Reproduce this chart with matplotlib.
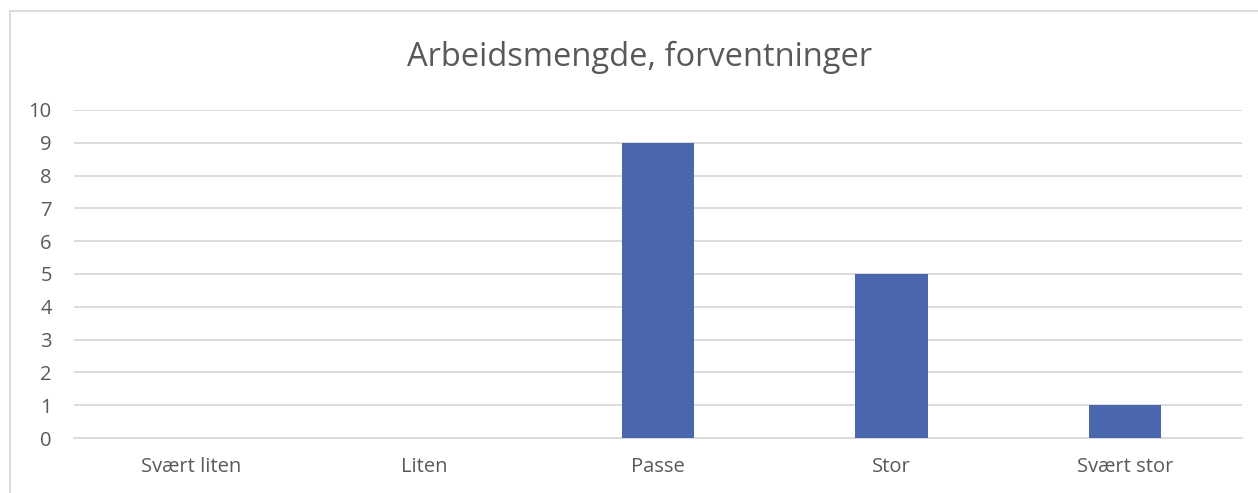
import matplotlib.pyplot as plt
from matplotlib.patches import Rectangle

# data
categories = ["Svært liten", "Liten", "Passe", "Stor", "Svært stor"]
counts = [0, 0, 9, 5, 1]
yticks = list(range(0, 11))

plt.rcParams['font.family'] = ['Open Sans', 'DejaVu Sans']
txt = "#595959"

fig = plt.figure(figsize=(12.58, 4.93), dpi=100)
ax = fig.add_axes([74 / 1258, 1 - 438 / 493, 1168 / 1258, 328 / 493])

# chart border
fig.patches.append(Rectangle((10 / 1258, -0.1), 1.2, 1 - 11 / 493 + 0.1,
                             transform=fig.transFigure, fill=False,
                             edgecolor="#D9D9D9", linewidth=1.3))

x = range(len(categories))
ax.bar(x, counts, width=0.31, color="#4A66AC", zorder=3)

ax.set_xlim(-0.5, len(categories) - 0.5)
ax.set_ylim(0, 10)
ax.set_yticks(yticks)
ax.set_xticks(list(x))
ax.set_xticklabels(categories)
ax.yaxis.grid(True, color="#D9D9D9", linewidth=1.3, zorder=0)
ax.tick_params(axis="both", length=0, labelsize=14.5, colors=txt)
ax.tick_params(axis="y", pad=16)
ax.tick_params(axis="x", pad=14)
for s in ax.spines.values():
    s.set_visible(False)
ax.spines["bottom"].set_visible(True)
ax.spines["bottom"].set_color("#D9D9D9")
ax.spines["bottom"].set_linewidth(1.3)

fig.text(640 / 1258, 1 - 57 / 493, "Arbeidsmengde, forventninger",
         ha="center", va="center", fontsize=23.5, color=txt)

fig.savefig("out.png", dpi=100)
